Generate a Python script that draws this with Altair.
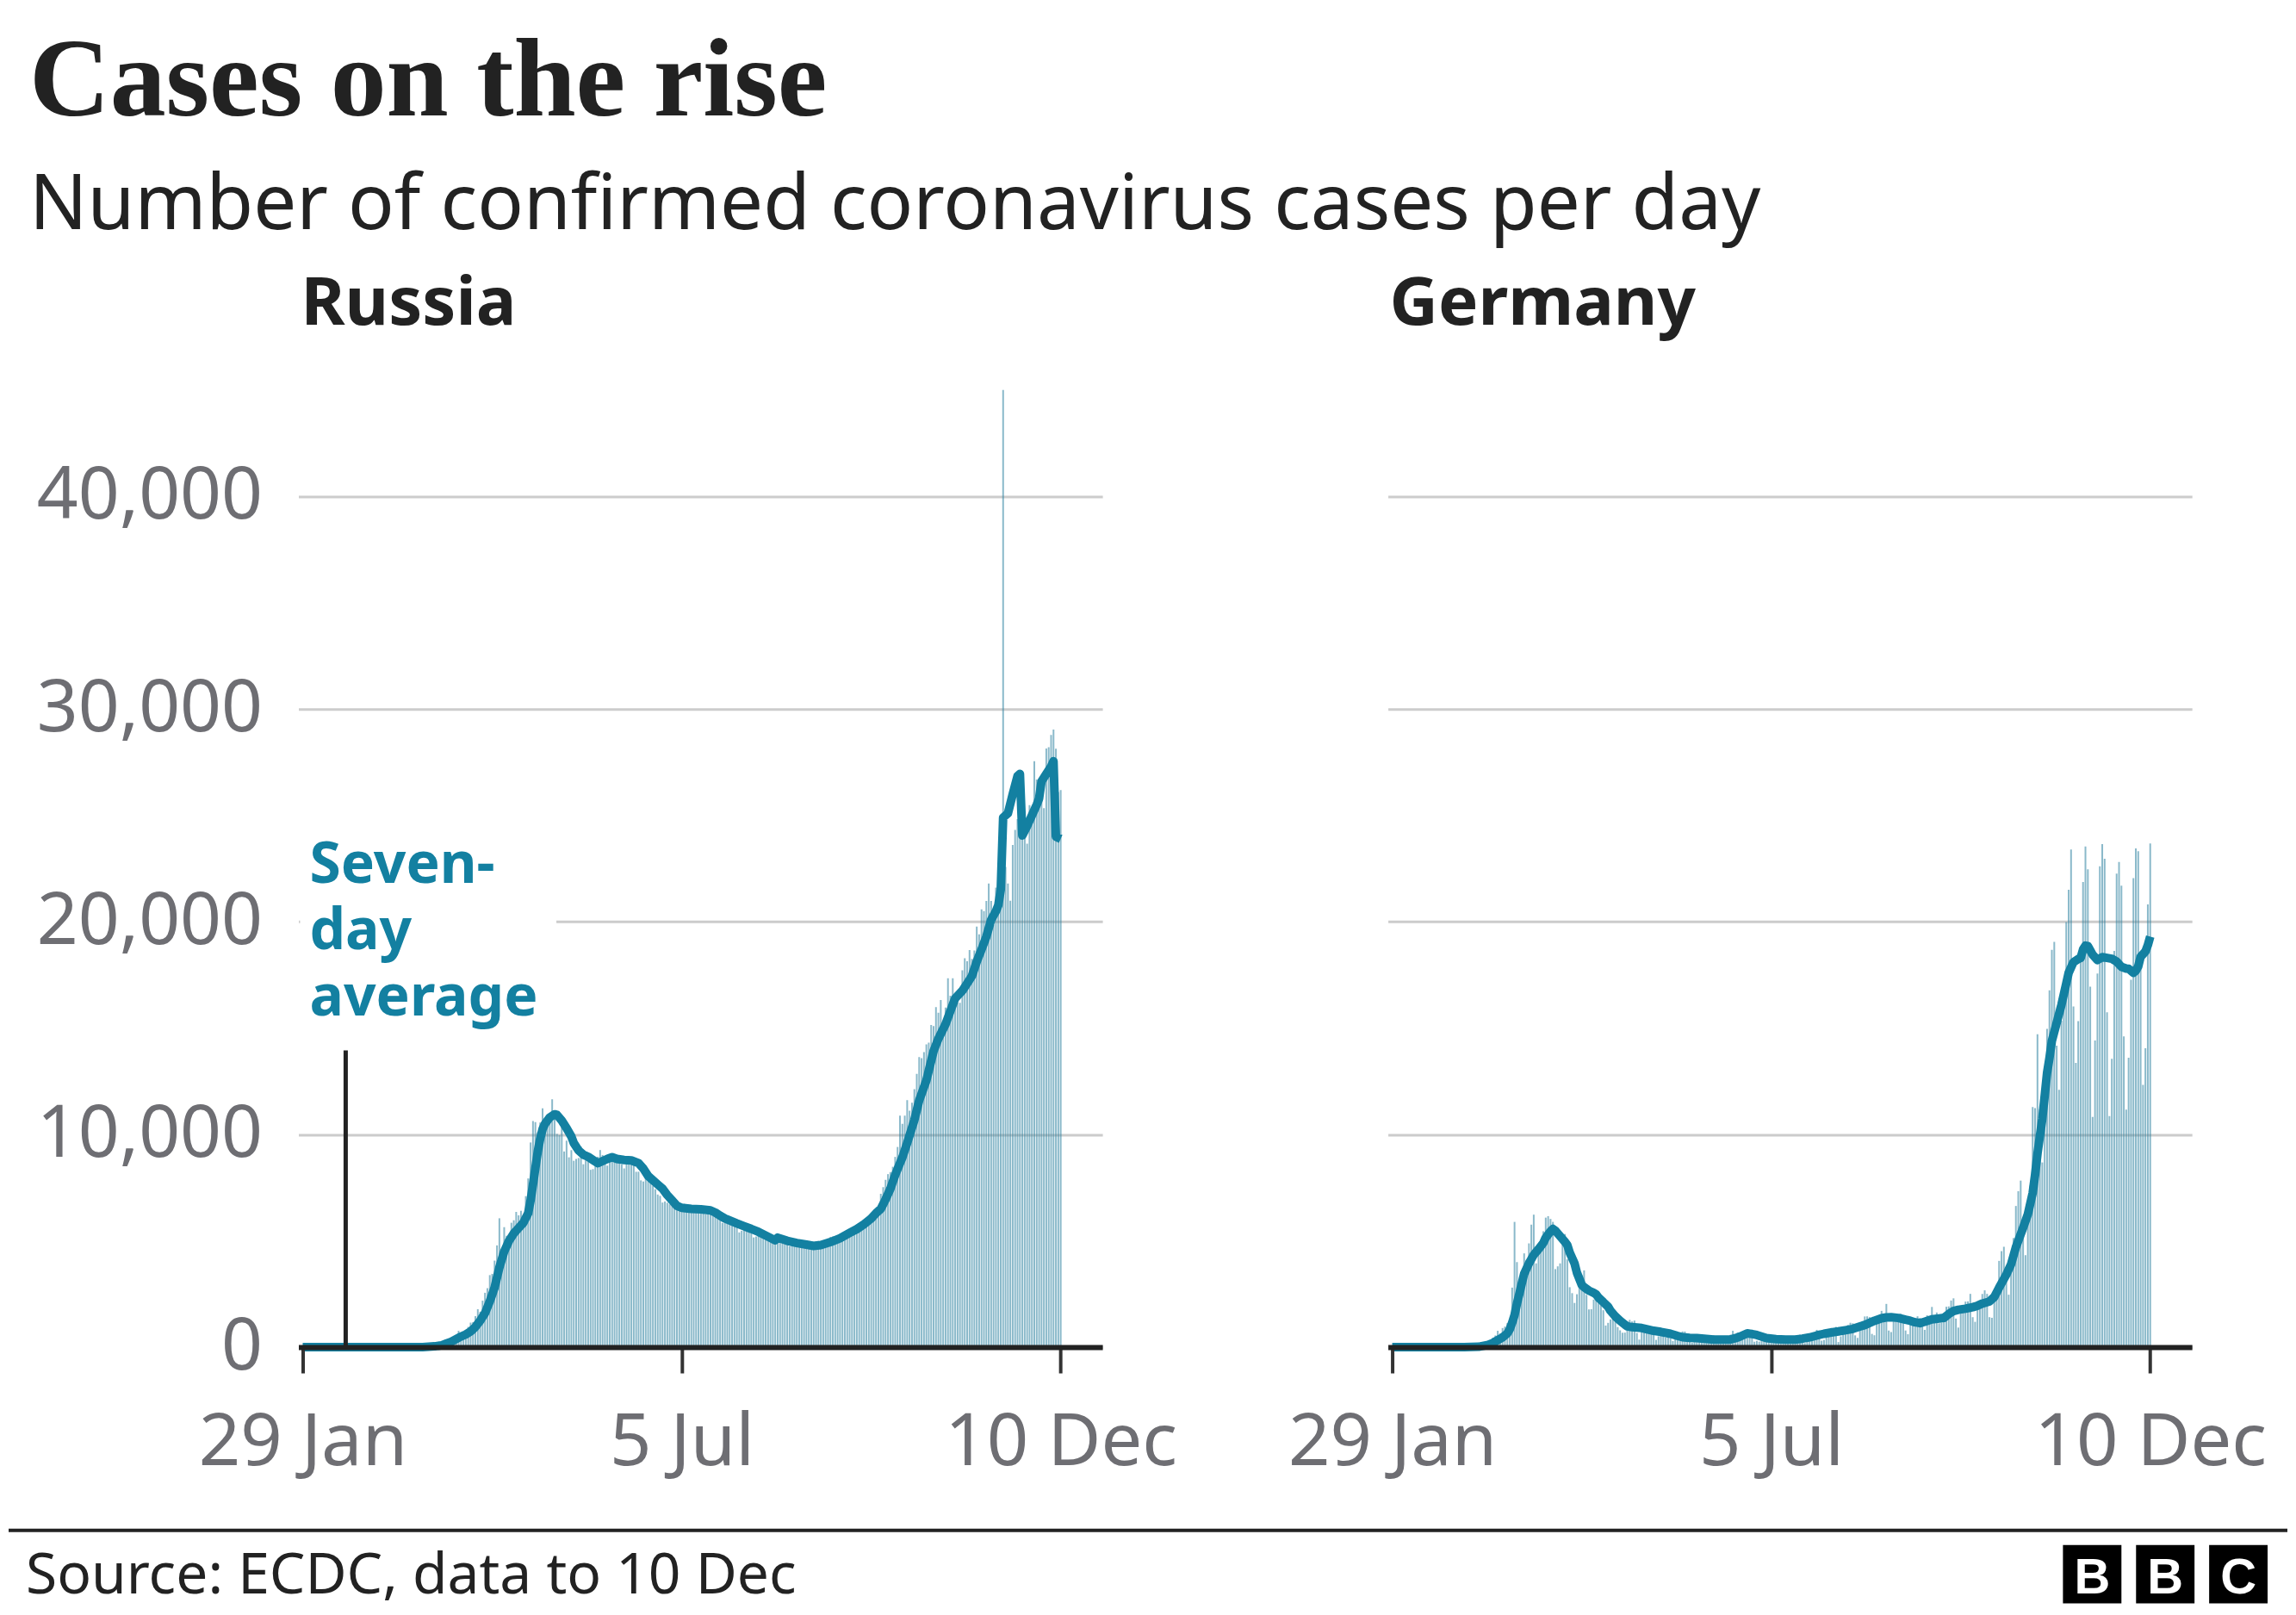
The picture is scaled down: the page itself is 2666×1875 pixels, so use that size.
import altair as alt
import pandas as pd

# ------------------------------------------------------------------ data
TICK_DAYS = [0, 158, 316]                      # days since 29 Jan 2020
TICK_LABELS = ["29 Jan", "5 Jul", "10 Dec"]
Y_TICKS = [0, 10000, 20000, 30000, 40000]

# Russia, daily confirmed cases (29 Jan .. 10 Dec)
RU_JAN_FEB = [0, 0, 0, 2, 0, 0, 0, 0, 0, 0, 0, 0, 0, 0, 0, 0, 0, 0, 0, 0,
              0, 0, 0, 0, 0, 0, 0, 0, 0, 0, 0, 0]
RU_MAR = [0, 0, 1, 0, 0, 1, 6, 0, 3, 3, 0, 10, 6, 14, 4, 25, 30, 33, 52, 54,
          53, 61, 71, 57, 57, 163, 182, 196, 228, 270, 302]
RU_APR = [500, 440, 771, 601, 582, 658, 954, 1154, 1175, 1459, 1786, 1667, 2186,
          2558, 2774, 3388, 3448, 4070, 4785, 6060, 4268, 5642, 5236, 4774, 5849,
          5966, 6361, 6198, 6411, 5841]
RU_MAY = [7099, 7933, 9623, 10633, 10581, 10102, 10559, 11231, 10699, 10817, 11012,
          11656, 10899, 10028, 9974, 10598, 9200, 9709, 8926, 9263, 8764, 8849, 8894,
          9434, 8599, 8946, 8915, 8338, 8371, 8572, 8952]
RU_JUN = [9268, 9035, 8863, 8536, 8831, 8726, 8855, 8984, 8985, 8595, 8404, 8779,
          8987, 8706, 8835, 8246, 8248, 7843, 7790, 7972, 7889, 7728, 7600, 7425,
          7176, 7113, 6800, 6852, 6791, 6719]
RU_JUL = [6693, 6556, 6760, 6718, 6632, 6736, 6611, 6368, 6562, 6509, 6635, 6611,
          6615, 6537, 6248, 6422, 6428, 6406, 6234, 6109, 6139, 5842, 5862, 5848,
          5811, 5871, 5765, 5635, 5395, 5475, 5509]
RU_AUG = [5482, 5462, 5427, 5159, 5204, 5267, 5241, 5212, 5189, 5118, 5102, 4945,
          4890, 5057, 5065, 5061, 4969, 4839, 4748, 4790, 4767, 4785, 4838, 4921,
          4852, 4696, 4676, 4711, 4829, 4980, 4993]
RU_SEP = [4897, 4729, 4952, 5110, 5185, 5205, 5195, 5099, 5099, 5172, 5363, 5310,
          5406, 5488, 5449, 5509, 5670, 5762, 5905, 6065, 6148, 6196, 6215, 6431,
          6595, 7212, 7523, 7867, 8135, 8232]
RU_OCT = [8481, 8945, 9412, 10888, 10499, 10888, 11615, 11115, 11493, 12126, 12846,
          13634, 13592, 13868, 14231, 14321, 15150, 15099, 15982, 15722, 16319,
          14922, 15971, 17340, 16521, 17347, 16550, 16202, 16193, 17717, 18283]
RU_NOV = [18140, 18665, 18257, 18648, 19768, 19404, 20582, 20498, 20977, 21798,
          20977, 19851, 21608, 21983, 22702, 45000, 22572, 21798, 20985, 23610,
          24318, 24822, 24581, 25173, 24326, 23675, 25487, 25345, 27543, 26683]
RU_DEC = [26338, 26402, 25345, 28145, 28209, 28782, 29039, 28137, 26097, 26190]

# Russia, seven-day average (day, value)
RU_AVG_DAY = [0, 50, 55, 58, 60, 62, 64, 66, 68, 70, 72, 74, 76, 78, 80, 82, 84, 86,
              88, 90, 92, 94, 95, 96, 98, 99, 100, 101, 103, 105, 106, 108, 110, 112,
              113, 115, 117, 119, 121, 123, 125, 127, 129, 131, 134, 137, 140, 142,
              144, 146, 148, 150, 152, 154, 156, 158, 162, 166, 170, 172, 174, 176,
              178, 181, 184, 187, 190, 193, 196, 197, 198, 202, 206, 210, 213, 216,
              220, 224, 228, 231, 234, 237, 239, 241, 243, 245, 247, 249, 250, 252,
              255, 257, 260, 263, 265, 268, 270, 272, 275, 277, 279, 281, 283, 285,
              287, 289, 290, 291, 292, 294, 296, 298, 299, 300, 302, 304, 306, 307,
              308, 310, 312, 313, 314, 316]
RU_AVG = [0, 0, 40, 90, 180, 260, 380, 500, 600, 740, 950, 1250, 1600, 2150, 2800,
          3750, 4500, 5000, 5350, 5600, 5850, 6300, 6900, 7650, 9200, 9800, 10250,
          10500, 10800, 10950, 10920, 10650, 10300, 9900, 9600, 9250, 9050, 8950,
          8800, 8650, 8750, 8850, 8930, 8850, 8800, 8780, 8650, 8400, 8050, 7850,
          7650, 7450, 7150, 6900, 6650, 6550, 6500, 6480, 6430, 6330, 6180, 6050,
          5960, 5820, 5690, 5560, 5420, 5250, 5080, 5030, 5150, 5000, 4900, 4820,
          4760, 4800, 4940, 5120, 5370, 5550, 5780, 6050, 6300, 6500, 6950, 7450,
          8100, 8650, 8920, 9600, 10680, 11600, 12540, 13920, 14500, 15190, 15800,
          16400, 16760, 17100, 17450, 18130, 18700, 19300, 20090, 20500, 20780,
          21500, 24900, 25100, 26000, 26850, 26950, 24050, 24500, 25000, 25500,
          25800, 26600, 26950, 27300, 27550, 24000, 23900]

# Germany, daily confirmed cases (29 Jan .. 10 Dec)
DE_JAN_FEB = [0, 3, 1, 0, 0, 4, 2, 2, 1, 0, 1, 0, 1, 0, 0, 0, 0, 0, 0, 0,
              0, 0, 0, 0, 0, 0, 0, 0, 2, 10, 18, 5]
DE_MAR = [57, 28, 37, 66, 160, 188, 129, 241, 136, 281, 451, 550, 770, 650, 900, 970,
          1130, 1050, 2800, 5890, 4000, 2400, 2300, 4410, 4100, 4880, 5760, 6230,
          3940, 4450, 4750]
DE_APR = [5450, 6090, 6160, 6030, 5890, 3670, 3800, 3940, 4970, 5320, 4130, 2820,
          2540, 2080, 2490, 2870, 3380, 3610, 2460, 1775, 1785, 2237, 2352, 2337,
          2055, 1737, 1018, 1144, 1304, 1478]
DE_MAY = [1639, 945, 793, 679, 685, 947, 1284, 1209, 1251, 667, 357, 933, 798, 933,
          913, 620, 583, 342, 513, 797, 745, 460, 638, 431, 289, 432, 362, 353, 741,
          738, 286]
DE_JUN = [333, 213, 342, 285, 394, 507, 301, 214, 350, 318, 555, 301, 192, 247, 192,
          378, 345, 580, 770, 601, 687, 537, 503, 587, 630, 477, 687, 256, 298, 262]
DE_JUL = [466, 503, 446, 422, 239, 219, 397, 442, 378, 442, 378, 248, 159, 356, 351,
          534, 583, 497, 196, 252, 454, 454, 569, 815, 781, 305, 340, 633, 684, 902,
          870]
DE_AUG = [955, 240, 509, 879, 741, 1045, 1147, 1122, 555, 436, 966, 1226, 1445, 1449,
          1415, 625, 561, 1390, 1510, 1707, 1427, 2034, 782, 711, 1278, 1576, 1507,
          1571, 1479, 785, 610]
DE_SEP = [1218, 1256, 1311, 1453, 1378, 988, 814, 1499, 1176, 1892, 1484, 1630, 1126,
          1158, 1407, 1901, 1916, 2194, 2297, 1345, 922, 1821, 1769, 2143, 2153, 2507,
          1411, 1192, 2089, 1798]
DE_OCT = [2503, 2673, 2507, 1411, 1382, 2279, 2828, 4058, 4516, 4721, 3483, 2467,
          4122, 5132, 6638, 7334, 7830, 5587, 4325, 6868, 7595, 11287, 11242, 14714,
          11176, 8685, 11409, 14964, 16774, 18681, 19059]
DE_NOV = [14177, 12097, 15352, 17214, 19990, 21506, 23399, 16017, 13363, 15332, 18487,
          21866, 23542, 22461, 16947, 10824, 14419, 17561, 22609, 23648, 22964, 15741,
          10864, 13554, 18633, 22268, 22806, 21695, 14611, 11169]
DE_DEC = [13604, 17270, 22046, 23449, 23318, 17767, 12332, 14054, 20815, 23679]

# Germany, seven-day average (day, value)
DE_AVG_DAY = [0, 30, 36, 40, 42, 44, 46, 48, 49, 50, 51, 52, 53, 54, 55, 57, 59, 61, 63,
              64, 66, 67, 68, 70, 72, 73, 74, 76, 77, 79, 80, 82, 84, 85, 86, 88, 90,
              91, 93, 95, 97, 98, 100, 102, 104, 106, 109, 112, 116, 119, 121, 124,
              127, 130, 134, 138, 141, 143, 145, 148, 150, 152, 154, 156, 160, 164,
              168, 171, 174, 177, 180, 183, 186, 189, 192, 195, 197, 199, 201, 204,
              206, 208, 211, 214, 216, 218, 220, 222, 225, 228, 230, 232, 234, 236,
              239, 242, 244, 246, 249, 251, 253, 256, 258, 260, 261, 263, 265, 267,
              268, 269, 271, 272, 273, 274, 275, 277, 279, 281, 282, 284, 286, 287,
              288, 289, 290, 291, 292, 294, 296, 298, 300, 302, 304, 306, 307, 309,
              310, 311, 312, 314, 315, 316]
DE_AVG = [0, 0, 20, 110, 200, 330, 460, 650, 840, 1150, 1510, 2050, 2500, 2990, 3450,
          3940, 4340, 4610, 4900, 5150, 5450, 5560, 5480, 5220, 4950, 4800, 4450, 3940,
          3500, 2930, 2820, 2660, 2550, 2480, 2330, 2120, 1900, 1710, 1450, 1240, 1060,
          980, 940, 920, 900, 850, 770, 720, 630, 530, 470, 440, 430, 400, 360, 355,
          360, 420, 500, 650, 620, 570, 500, 430, 380, 360, 360, 400, 460, 550, 630,
          690, 740, 800, 860, 970, 1040, 1140, 1240, 1360, 1400, 1410, 1375, 1290,
          1240, 1170, 1130, 1200, 1310, 1350, 1380, 1560, 1700, 1760, 1810, 1880, 1950,
          2050, 2150, 2360, 2800, 3410, 3900, 4700, 5000, 5610, 6250, 7250, 8100, 9100,
          10730, 11800, 12900, 13600, 14400, 15250, 16100, 17100, 17600, 18100, 18250,
          18300, 18700, 18880, 18860, 18650, 18450, 18200, 18340, 18300, 18260, 18130,
          17880, 17800, 17790, 17600, 17700, 17900, 18350, 18600, 18900, 19300]

RUSSIA_DAILY = (RU_JAN_FEB + RU_MAR + RU_APR + RU_MAY + RU_JUN + RU_JUL + RU_AUG
                + RU_SEP + RU_OCT + RU_NOV + RU_DEC)
GERMANY_DAILY = (DE_JAN_FEB + DE_MAR + DE_APR + DE_MAY + DE_JUN + DE_JUL + DE_AUG
                 + DE_SEP + DE_OCT + DE_NOV + DE_DEC)

# ------------------------------------------------------------------ layout / style
PLOT_W = 935
PLOT_H = 1113
GAP = 332
X_MAX = 331.6
Y_MAX = 45000
TEAL = "#1380A1"
BAR_COLOR = "#2a7f9e"
INK = "#222222"
GREY = "#6e6e73"
SANS = "Noto Sans"
HEAD = -443          # header origin relative to the Russia plot top
FOOT = PLOT_H        # footer origin relative to the Russia plot top

LABEL_EXPR = " : ".join(
    f"datum.value == {d} ? '{l}'" for d, l in zip(TICK_DAYS, TICK_LABELS)
) + " : ''"

x_axis = alt.Axis(values=TICK_DAYS, labelExpr=LABEL_EXPR, title=None, grid=False,
                  domain=True, domainColor=INK, domainWidth=6, ticks=True,
                  tickColor="#333333", tickWidth=4, tickSize=30, labelFontSize=85,
                  labelColor=GREY, labelFont=SANS, labelPadding=40, labelFlush=False,
                  labelOverlap=False, labelLimit=0, zindex=1)
y_axis_ru = alt.Axis(values=Y_TICKS, labelExpr="format(datum.value, ',')", title=None,
                     grid=True, gridColor="#cccccc", gridWidth=3, domain=False,
                     ticks=False, tickSize=0, labelFontSize=84, labelColor=GREY,
                     labelFont=SANS, labelPadding=42, labelFlush=False, labelLimit=0,
                     labelOverlap=False, zindex=0)
y_axis_de = alt.Axis(values=Y_TICKS, title=None, grid=True, gridColor="#cccccc",
                     gridWidth=3, domain=False, ticks=False, labels=False, zindex=0)

x_scale = alt.Scale(domain=[0, X_MAX], nice=False, zero=False)
y_scale = alt.Scale(domain=[0, Y_MAX], nice=False)

one = pd.DataFrame({"k": [0]})


def text_at(s, x, y, size, color=INK, weight="normal", font=SANS, align="left",
            baseline="alphabetic"):
    return alt.Chart(one).mark_text(
        text=s, align=align, baseline=baseline, fontSize=size, fontWeight=weight,
        color=color, font=font
    ).encode(x=alt.value(x), y=alt.value(y))


def rect_at(x, x2, y, y2, color, opacity=1.0):
    return alt.Chart(one).mark_rect(color=color, opacity=opacity).encode(
        x=alt.value(x), x2=alt.value(x2), y=alt.value(y), y2=alt.value(y2))


def hrule(x, x2, y, color, width):
    return alt.Chart(one).mark_rule(color=color, strokeWidth=width).encode(
        x=alt.value(x), x2=alt.value(x2), y=alt.value(y))


def panel(daily, avg_day, avg_val, y_axis, under, over):
    bars_df = pd.DataFrame({"day": list(range(len(daily))), "cases": daily})
    line_df = pd.DataFrame({"day": avg_day, "avg": avg_val})
    bars = alt.Chart(bars_df).mark_bar(size=2, color=BAR_COLOR, opacity=0.55).encode(
        x=alt.X("day:Q", scale=x_scale, axis=x_axis),
        y=alt.Y("cases:Q", scale=y_scale, axis=y_axis),
    )
    line = alt.Chart(line_df).mark_line(color=TEAL, strokeWidth=10,
                                        strokeJoin="round").encode(
        x=alt.X("day:Q", scale=x_scale, axis=x_axis),
        y=alt.Y("avg:Q", scale=y_scale, axis=y_axis),
    )
    return alt.layer(*under, bars, line, *over).properties(width=PLOT_W, height=PLOT_H)


# --- annotation inside the Russia panel
ann_bg = rect_at(2, 300, 604, 634, "white")
ann_rule = alt.Chart(one).mark_rule(color=INK, strokeWidth=5).encode(
    x=alt.value(55), y=alt.value(768), y2=alt.value(PLOT_H))
ann_texts = [text_at("Seven-", 13, 573, 66, TEAL, "bold"),
             text_at("day", 13, 650, 66, TEAL, "bold"),
             text_at("average", 13, 727, 66, TEAL, "bold")]

# --- header (title, subtitle, panel names), placed above the Russia panel
header = [hrule(-337, 2313, HEAD, "white", 1),
          text_at("Cases on the rise", -313, HEAD + 124, 130, INK, "bold",
                  "Liberation Serif"),
          text_at("Number of confirmed coronavirus cases per day", -313, HEAD + 256,
                  89, INK),
          text_at("Russia", 3, HEAD + 367, 78, INK, "bold"),
          text_at("Germany", 1269, HEAD + 367, 78, INK, "bold")]

# --- footer (rule, source, BBC blocks), placed below the Russia panel
footer = [hrule(-337, 2313, FOOT + 213, INK, 4),
          hrule(-337, 2313, FOOT + 310, "white", 1),
          text_at("Source: ECDC, data to 10 Dec", -317, FOOT + 286, 66, INK)]
for i, letter in enumerate(["B", "B", "C"]):
    x0 = 2052 + i * 85
    footer.append(rect_at(x0, x0 + 68, FOOT + 230, FOOT + 298, "#000000"))
    footer.append(text_at(letter, x0 + 34, FOOT + 286, 58, "white", "bold",
                          "Liberation Sans", align="center"))

russia = panel(RUSSIA_DAILY, RU_AVG_DAY, RU_AVG, y_axis_ru, [ann_bg],
               [ann_rule] + ann_texts + header + footer)
germany = panel(GERMANY_DAILY, DE_AVG_DAY, DE_AVG, y_axis_de, [], [])

chart = alt.hconcat(russia, germany, spacing=GAP, bounds="flush").properties(
    padding=0, background="white"
).configure(font=SANS, view=alt.ViewConfig(strokeWidth=0))

chart.save("out.html", embed_options={"renderer": "svg", "actions": False})
